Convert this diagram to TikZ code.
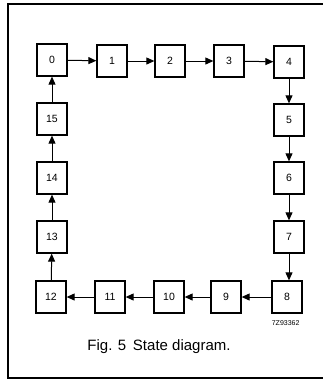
\documentclass[tikz,border=0pt]{standalone}
\usepackage{fontspec}
\setmainfont{Liberation Sans}
\usetikzlibrary{arrows.meta}
\begin{document}
\begin{tikzpicture}[x=1pt,y=-1pt]
    \tikzstyle{state box}=[rectangle, draw, line width=1.3pt, minimum width=30pt, minimum height=32pt, inner sep=0pt, font=\fontsize{10.5}{12}\selectfont];
    \tikzstyle{step arrow}=[line width=1pt, -{Triangle[length=8pt,width=7pt]}];
    
    \useasboundingbox (0,0) rectangle (323,380);
    % frame, open on the right
    \draw[line width=1.2pt] (330,4) -- (8,4) -- (8,378) -- (330,378);
    
    \node[state box] (s0) at (52,60) {0};
    \node[state box] (s1) at (112,61) {1};
    \node[state box] (s2) at (170,61) {2};
    \node[state box] (s3) at (229,61) {3};
    \node[state box] (s4) at (289,62) {4};
    
    \node[state box] (s5) at (289,120) {5};
    \node[state box] (s6) at (289,178) {6};
    \node[state box] (s7) at (289,237) {7};
    \node[state box] (s8) at (287,297) {8};
    
    \node[state box] (s9) at (226,297) {9};
    \node[state box] (s10) at (169,297) {10};
    \node[state box] (s11) at (110,297) {11};
    \node[state box] (s12) at (51,297) {12};
    
    \node[state box] (s13) at (52,237) {13};
    \node[state box] (s14) at (52,178) {14};
    \node[state box] (s15) at (52,119) {15};
    
    \draw[step arrow] (s0) -- (s1);
    \draw[step arrow] (s1) -- (s2);
    \draw[step arrow] (s2) -- (s3);
    \draw[step arrow] (s3) -- (s4);
    \draw[step arrow] (s4) -- (s5);
    \draw[step arrow] (s5) -- (s6);
    \draw[step arrow] (s6) -- (s7);
    \draw[step arrow] (s7.south) -- (s7.south |- s8.north);
    \draw[step arrow] (s8) -- (s9);
    \draw[step arrow] (s9) -- (s10);
    \draw[step arrow] (s10) -- (s11);
    \draw[step arrow] (s11) -- (s12);
    \draw[step arrow] (s12) -- (s13);
    \draw[step arrow] (s13) -- (s14);
    \draw[step arrow] (s14) -- (s15);
    \draw[step arrow] (s15) -- (s0);
    
    \node[font=\fontsize{7}{8}\selectfont, anchor=east] (code) at (303,323) {7Z93362};
    \node[font=\fontsize{15}{17}\selectfont] (caption) at (159,347) {Fig. 5\, State diagram.};
\end{tikzpicture}
\end{document}
